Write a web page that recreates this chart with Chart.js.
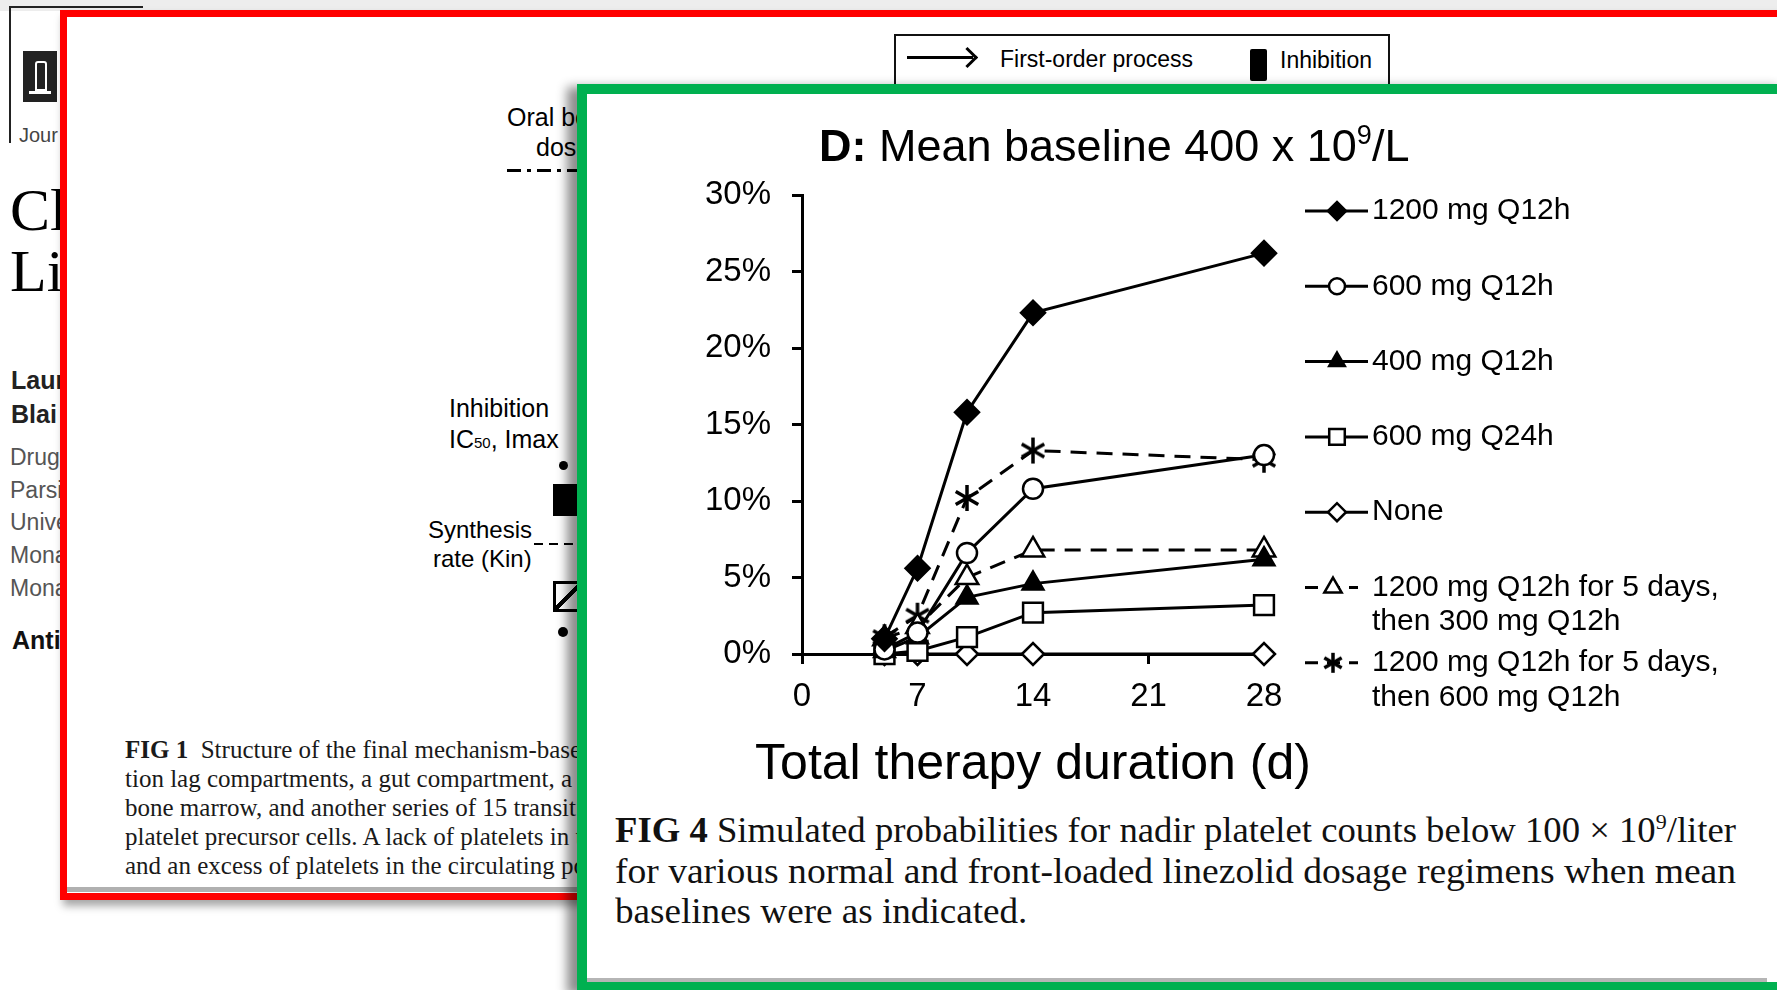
<!DOCTYPE html>
<html>
<head>
<meta charset="utf-8">
<script src="https://cdn.jsdelivr.net/npm/chart.js@4.4.1/dist/chart.umd.min.js"></script>
<style>
html,body{margin:0;padding:0;width:1777px;height:990px;overflow:hidden;background:#fff;font-family:"Liberation Sans",Arial,sans-serif;color:#000;}
.abs{position:absolute;white-space:nowrap;line-height:1;}
#topstrip{position:absolute;left:0;top:0;width:1777px;height:11px;background:#ededed;z-index:0;}
#frame{position:absolute;left:9px;top:6px;width:132px;height:135px;border-left:2px solid #222;border-top:2px solid #222;z-index:0;}
#logo{position:absolute;left:23px;top:51px;width:34px;height:51px;background:#222;z-index:0;}
#logo i{position:absolute;left:12px;top:10px;width:8px;height:26px;border:2px solid #fff;border-radius:3px 3px 0 0;}
#logo u{position:absolute;left:6px;top:40px;width:22px;height:3px;background:#fff;}
.pg{z-index:0;}
#redbox{position:absolute;left:60px;top:10px;width:1780px;height:890px;box-sizing:border-box;border:7px solid #ff0000;background:#fff;box-shadow:3px 6px 8px rgba(0,0,0,0.35);z-index:1;}
.rc{z-index:2;}
#greenbox{position:absolute;left:577px;top:84px;width:1210px;height:908px;box-sizing:border-box;border:10px solid #00b050;background:#fff;box-shadow:-10px 3px 10px rgba(0,0,0,0.45);z-index:3;}
.gc{z-index:4;}
#chart{position:absolute;left:587px;top:94px;z-index:4;}
.serif{font-family:"Liberation Serif","Times New Roman",serif;}
.fit{white-space:nowrap;display:inline-block;transform-origin:0 50%;}
</style>
</head>
<body>
<script>
// ---------------- data ----------------
const days = [5, 7, 10, 14, 28];
const xTickValues = [0, 7, 14, 21, 28];
const yTickValues = [0, 5, 10, 15, 20, 25, 30];
const seriesLabels = [
  ["1200 mg Q12h"],
  ["600 mg Q12h"],
  ["400 mg Q12h"],
  ["600 mg Q24h"],
  ["None"],
  ["1200 mg Q12h for 5 days,", "then 300 mg Q12h"],
  ["1200 mg Q12h for 5 days,", "then 600 mg Q12h"]
];
const q12h1200 = [1.0, 5.6, 15.8, 22.3, 26.2];
const q12h600  = [0.3, 1.4, 6.6, 10.8, 13.0];
const q12h400  = [0.2, 1.1, 3.7, 4.6, 6.2];
const q24h600  = [0.0, 0.2, 1.1, 2.7, 3.2];
const noDrug   = [0.0, 0.0, 0.0, 0.0, 0.0];
const load300  = [1.0, 1.8, 5.0, 6.8, 6.8];
const load600  = [1.1, 2.5, 10.2, 13.3, 12.7];
const chartTitle = "Mean baseline 400 x 10";
const xTitle = "Total therapy duration (d)";
</script>

<div id="topstrip"></div>
<div id="frame"></div>
<div id="logo"><i></i><u></u></div>
<div class="abs pg" style="left:19px;top:125px;font-size:20px;color:#444;">Jour</div>
<div class="abs pg serif" style="left:10px;top:180px;font-size:60px;">Cl</div>
<div class="abs pg serif" style="left:10px;top:241px;font-size:60px;">Li</div>
<div class="abs pg" style="left:11px;top:368px;font-size:25px;font-weight:bold;color:#222;">Laur</div>
<div class="abs pg" style="left:11px;top:402px;font-size:25px;font-weight:bold;color:#222;">Blai</div>
<div class="abs pg" style="left:10px;top:446px;font-size:23px;color:#555;">Drug</div>
<div class="abs pg" style="left:10px;top:479px;font-size:23px;color:#555;">Parsi</div>
<div class="abs pg" style="left:10px;top:511px;font-size:23px;color:#555;">Unive</div>
<div class="abs pg" style="left:10px;top:544px;font-size:23px;color:#555;">Mona</div>
<div class="abs pg" style="left:10px;top:577px;font-size:23px;color:#555;">Mona</div>
<div class="abs pg" style="left:12px;top:628px;font-size:25px;font-weight:bold;color:#111;">Anti</div>

<div id="redbox"></div>
<!-- FIG 1 fragments -->
<div class="rc" style="position:absolute;left:894px;top:34px;width:496px;height:90px;border:2px solid #111;box-sizing:border-box;"></div>
<div class="rc" style="position:absolute;left:907px;top:56px;width:66px;height:3px;background:#000;"></div>
<div class="rc" style="position:absolute;left:960px;top:50px;width:12px;height:12px;border-right:3px solid #000;border-top:3px solid #000;transform:rotate(45deg);"></div>
<div class="abs rc" style="left:1000px;top:48px;font-size:23px;">First-order process</div>
<div class="rc" style="position:absolute;left:1250px;top:49px;width:17px;height:32px;background:#000;border-radius:2px;"></div>
<div class="abs rc" style="left:1280px;top:49px;font-size:23px;">Inhibition</div>

<div class="abs rc" style="left:507px;top:105px;font-size:25px;">Oral bolus</div>
<div class="abs rc" style="left:536px;top:135px;font-size:25px;">dose</div>
<div class="rc" style="position:absolute;left:507px;top:169px;width:80px;height:3px;background:repeating-linear-gradient(90deg,#000 0 14px,transparent 14px 20px,#000 20px 24px,transparent 24px 30px);"></div>

<div class="abs rc" style="left:449px;top:396px;font-size:25px;">Inhibition</div>
<div class="abs rc" style="left:449px;top:427px;font-size:25px;">IC<span style="font-size:15px;">50</span>, Imax</div>
<div class="rc" style="position:absolute;left:559px;top:461px;width:9px;height:9px;border-radius:50%;background:#000;"></div>
<div class="rc" style="position:absolute;left:553px;top:484px;width:30px;height:32px;background:#000;"></div>
<div class="abs rc" style="left:428px;top:518px;font-size:24px;">Synthesis</div>
<div class="abs rc" style="left:433px;top:547px;font-size:24px;">rate (Kin)</div>
<div class="rc" style="position:absolute;left:534px;top:543px;width:50px;height:2px;background:repeating-linear-gradient(90deg,#000 0 9px,transparent 9px 15px);"></div>
<div class="rc" style="position:absolute;left:553px;top:581px;width:30px;height:31px;box-sizing:border-box;border:3px solid #000;background:linear-gradient(135deg,transparent 44%,#000 44%,#000 56%,transparent 56%);"></div>
<div class="rc" style="position:absolute;left:558px;top:627px;width:10px;height:10px;border-radius:50%;background:#000;"></div>

<div class="rc serif" style="position:absolute;left:125px;top:735px;font-size:25px;line-height:29px;color:#1a1a1a;white-space:nowrap;">
<div><b>FIG 1</b>&nbsp; Structure of the final mechanism-based</div>
<div>tion lag compartments, a gut compartment, a</div>
<div>bone marrow, and another series of 15 transit</div>
<div>platelet precursor cells. A lack of platelets in the</div>
<div>and an excess of platelets in the circulating pool</div>
</div>
<div class="rc" style="position:absolute;left:67px;top:887px;width:520px;height:5px;background:#b0b0b0;"></div>

<div id="greenbox"></div>
<div class="rc gc" style="position:absolute;left:587px;top:978px;width:1180px;height:4px;background:#b5b5b5;"></div>

<canvas id="chart" width="1180" height="706"></canvas>

<div id="title" class="abs gc" style="left:819px;top:122px;font-size:45px;"><b>D:</b> <span id="ttext"></span><span style="font-size:27px;vertical-align:17px;">9</span>/L</div>

<div class="gc serif" style="position:absolute;left:615px;top:802px;width:1121px;font-size:35px;line-height:40.5px;color:#111;">
<div><span class="fit" id="cap1"><b>FIG 4</b> Simulated probabilities for nadir platelet counts below 100 × 10<span style="font-size:21px;vertical-align:13px;">9</span>/liter</span></div>
<div><span class="fit" id="cap2">for various normal and front-loaded linezolid dosage regimens when mean</span></div>
<div><span class="fit" id="cap3">baselines were as indicated.</span></div>
</div>

<script>
document.getElementById('ttext').textContent = chartTitle;

// condense caption lines to the column width
(function () {
  const W = 1121;
  const c1 = document.getElementById('cap1'), c2 = document.getElementById('cap2'), c3 = document.getElementById('cap3');
  const s1 = W / c1.getBoundingClientRect().width;
  const s2 = W / c2.getBoundingClientRect().width;
  c1.style.transform = 'scaleX(' + s1 + ')';
  c2.style.transform = 'scaleX(' + s2 + ')';
  c3.style.transform = 'scaleX(' + ((s1 + s2) / 2) + ')';
})();

function starImage(size, lw) {
  const c = document.createElement('canvas');
  c.width = size; c.height = size;
  const g = c.getContext('2d');
  g.strokeStyle = '#000'; g.lineWidth = lw; g.lineCap = 'butt';
  const r = size / 2 - 1;
  for (let k = 0; k < 3; k++) {
    const a = Math.PI / 2 + k * Math.PI / 3;
    g.beginPath();
    g.moveTo(size / 2 + Math.cos(a) * r, size / 2 - Math.sin(a) * r);
    g.lineTo(size / 2 - Math.cos(a) * r, size / 2 + Math.sin(a) * r);
    g.stroke();
  }
  return c;
}
const starBig = starImage(28, 3.5);
const starSmall = starImage(22, 3.5);

const seriesValues = [q12h1200, q12h600, q12h400, q24h600, noDrug, load300, load600];
const styles = [
  {ps: 'rectRot', fill: '#000', r: 12, lr: 9},
  {ps: 'circle', fill: '#fff', r: 10, lr: 8},
  {ps: 'triangle', fill: '#000', r: 12, lr: 9},
  {ps: 'rect', fill: '#fff', r: 14, lr: 11},
  {ps: 'rectRot', fill: '#fff', r: 11, lr: 9},
  {ps: 'triangle', fill: '#fff', r: 13, lr: 10},
  {ps: starBig, fill: '#fff', r: 12, lr: 10, legendImg: starSmall}
];
const dashed = [false, false, false, false, false, true, true];

const datasets = seriesValues.map((vals, i) => ({
  label: seriesLabels[i].join(' '),
  data: days.map((d, j) => ({x: d, y: vals[j]})),
  showLine: true,
  borderColor: '#000',
  borderWidth: 3,
  borderDash: dashed[i] ? [16, 10] : [],
  pointStyle: styles[i].ps,
  pointRadius: styles[i].r,
  pointHoverRadius: styles[i].r,
  pointBackgroundColor: styles[i].fill,
  pointBorderColor: '#000',
  pointBorderWidth: 2.5,
  clip: false,
  tension: 0
}));

const sideLegend = {
  id: 'sideLegend',
  afterDraw(chart) {
    const ctx = chart.ctx;
    const row0 = 117, rowGap = 75.3, lineGap = 34.5;
    const x0 = 718, textX = 785;
    ctx.save();
    chart.data.datasets.forEach((ds, i) => {
      const y = row0 + i * rowGap;
      const isDash = dashed[i];
      const x1 = isDash ? 771 : 781;
      ctx.strokeStyle = '#000';
      ctx.lineWidth = 3;
      ctx.setLineDash(isDash ? [13, 9] : []);
      ctx.beginPath(); ctx.moveTo(x0, y); ctx.lineTo(x1, y); ctx.stroke();
      ctx.setLineDash([]);
      const cx = isDash ? 746 : 750;
      const st = styles[i];
      ctx.fillStyle = st.fill;
      ctx.lineWidth = 2.5;
      Chart.helpers.drawPoint(ctx, {pointStyle: st.legendImg || st.ps, radius: st.lr, borderWidth: 2.5, rotation: 0}, cx, y);
      ctx.fillStyle = '#000';
      ctx.font = '30px "Liberation Sans", Arial, sans-serif';
      ctx.textBaseline = 'middle';
      ctx.textAlign = 'left';
      seriesLabels[i].forEach((t, k) => ctx.fillText(t, textX, y + k * lineGap));
    });
    // x-axis title (drawn without width compression)
    const ca = chart.chartArea;
    ctx.font = '50px "Liberation Sans", Arial, sans-serif';
    ctx.textAlign = 'center';
    ctx.textBaseline = 'alphabetic';
    ctx.fillText(xTitle, (ca.left + ca.right) / 2, 685);
    ctx.restore();
  }
};

new Chart(document.getElementById('chart'), {
  type: 'scatter',
  data: {datasets},
  options: {
    responsive: false,
    animation: false,
    devicePixelRatio: 1,
    layout: {padding: {left: 0, top: 101, right: 503, bottom: 0}},
    plugins: {legend: {display: false}, tooltip: {enabled: false}, title: {display: false}},
    scales: {
      x: {
        type: 'linear', min: 0, max: 28,
        afterBuildTicks(s) { s.ticks = xTickValues.map(v => ({value: v})); },
        afterFit(s) { s.height = 146; },
        grid: {drawOnChartArea: false, drawTicks: true, tickLength: 10, lineWidth: 3, color: '#000'},
        border: {display: true, color: '#000', width: 3},
        ticks: {color: '#000', font: {family: 'Liberation Sans', size: 33}, padding: 13, maxRotation: 0, autoSkip: false},
        title: {display: false}
      },
      y: {
        min: 0, max: 30,
        afterBuildTicks(s) { s.ticks = yTickValues.map(v => ({value: v})); },
        afterFit(s) { s.width = 215; },
        grid: {drawOnChartArea: false, drawTicks: true, tickLength: 10, lineWidth: 3, color: '#000'},
        border: {display: true, color: '#000', width: 3},
        ticks: {color: '#000', font: {family: 'Liberation Sans', size: 33}, padding: 21, callback: v => v + '%'}
      }
    }
  },
  plugins: [sideLegend]
});
</script>
</body>
</html>
